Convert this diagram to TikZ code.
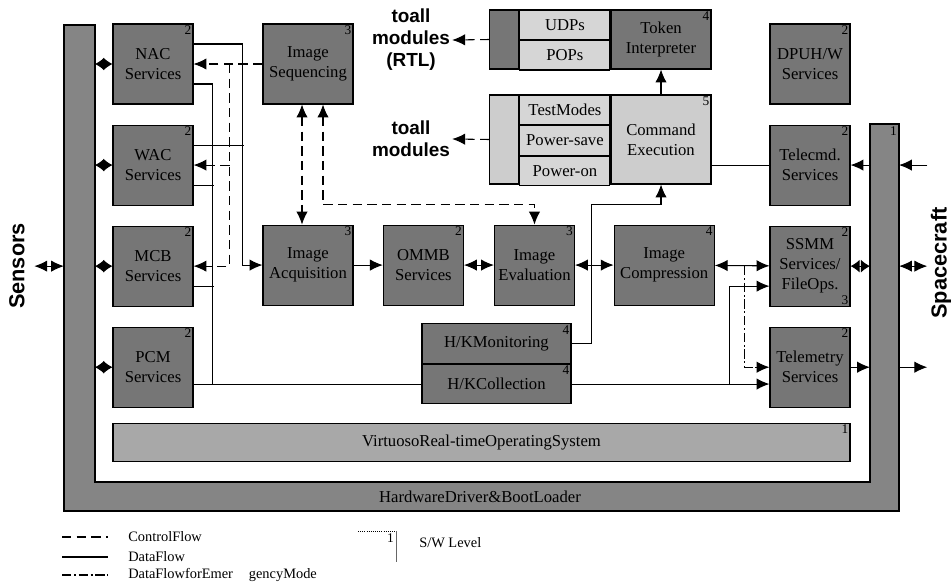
\documentclass[tikz,border=0pt]{standalone}
\usepackage{fontspec}
\setmainfont{Liberation Serif}
\newfontfamily\headsans{Liberation Sans}
\usepackage{tikz}
\usetikzlibrary{arrows.meta,positioning,calc}
\definecolor{modgray}{HTML}{767676}
\definecolor{litegray}{HTML}{D6D6D6}
\definecolor{cmdgray}{HTML}{CDCDCD}
\definecolor{osgray}{HTML}{A8A8A8}
\definecolor{hwgray}{HTML}{858585}
\newcommand{\modfont}{\fontsize{12.5}{15}\selectfont}
\newcommand{\lvlfont}{\fontsize{10}{11}\selectfont}
\newcommand{\legfont}{\fontsize{10.8}{12}\selectfont}
\newcommand{\notefont}{\headsans\bfseries\fontsize{14.2}{16.5}\selectfont}
\newcommand{\sidefont}{\headsans\bfseries\fontsize{16.3}{18}\selectfont}
\tikzset{
  modbox/.style={
    draw=black,
    fill=modgray,
    line width=0.8pt,
    minimum width=60pt,
    minimum height=60pt,
    align=center,
    inner sep=1pt,
    font=\modfont
  },
  litebox/.style={modbox, fill=litegray, minimum width=67.5pt},
  cmdbox/.style={modbox, fill=cmdgray},
  osbox/.style={modbox, fill=osgray},
  lvlnum/.style={anchor=north east, inner sep=1.5pt, font=\lvlfont},
  lvl/.style={label={[lvlnum]north east:#1}},
  notelabel/.style={align=center, inner sep=1.5pt, font=\notefont},
  sidelabel/.style={rotate=90, font=\sidefont},
  legtext/.style={inner sep=0pt, font=\legfont},
  dataflow/.style={draw=black, line width=0.8pt},
  dataarrow/.style={dataflow, -{Latex[length=3.4mm, width=3mm]}},
  databoth/.style={dataflow, {Latex[length=3.4mm, width=3mm]}-{Latex[length=3.4mm, width=3mm]}},
  diaflow/.style={dataflow, {Latex[length=2.4mm, width=3.4mm]}-{Latex[length=2.4mm, width=3.4mm]}},
  ctlflow/.style={draw=black, line width=0.8pt, dash pattern=on 7pt off 4pt},
  ctlarrow/.style={ctlflow, -{Latex[length=3.4mm, width=3mm]}},
  ctlboth/.style={ctlflow, {Latex[length=3.4mm, width=3mm]}-{Latex[length=3.4mm, width=3mm]}},
  emerarrow/.style={draw=black, line width=0.8pt, dash pattern=on 7pt off 2pt on 1.5pt off 2pt, -{Latex[length=3.4mm, width=3mm]}}
}

\begin{document}
\begin{tikzpicture}[x=0.75pt, y=-0.75pt, node distance=15pt]
\useasboundingbox (0,0) rectangle (952,582);

% hardware layer
\draw[fill=hwgray, line width=0.8pt] (64,25) -- (95,25) -- (95,482) -- (870,482) -- (870,124) -- (899,124) -- (899,511) -- (64,511) -- cycle;
\coordinate (lbarL) at (64,0);
\coordinate (lbarR) at (95,0);
\coordinate (rbarL) at (870,0);
\coordinate (rbarR) at (899,0);
\node[lvlnum] (hwlvl) at (899,124) {1};
\node[font=\modfont] (hwtext) at (480,497) {HardwareDriver\&BootLoader};
\node[osbox, minimum width=552.75pt, minimum height=29pt, lvl=1] (rtos) at (481.5,442.5) {VirtuosoReal-timeOperatingSystem};

% sensor side
\node[modbox, lvl=2] (nac) at (153,64) {NAC\\Services};
\node[modbox, lvl=2, below=of nac] (wac) {WAC\\Services};
\node[modbox, lvl=2, below=of wac] (mcb) {MCB\\Services};
\node[modbox, lvl=2, below=of mcb] (pcm) {PCM\\Services};

% image chain
\node[modbox, minimum width=67.5pt, lvl=3] (iseq) at (308,64) {Image\\Sequencing};
\node[modbox, minimum width=67.5pt, lvl=3, below=90pt of iseq] (iacq) {Image\\Acquisition};
\node[modbox, lvl=2, right=22pt of iacq] (ommb) {OMMB\\Services};
\node[modbox, lvl=3, right=22.5pt of ommb] (ieval) {Image\\Evaluation};
\node[modbox, minimum width=75pt, lvl=4, right=29pt of ieval] (icomp) {Image\\Compression};

% housekeeping
\node[modbox, minimum width=111.75pt, minimum height=29.6pt, lvl=4] (hkmon) at (496.5,343.5) {H/KMonitoring};
\node[modbox, minimum width=111.75pt, minimum height=29.6pt, lvl=4, below=0pt of hkmon] (hkcol) {H/KCollection};

% token interpreter
\node[modbox, minimum width=75pt, minimum height=44.25pt, lvl=4] (tokint) at (661,39.5) {Token\\Interpreter};
\node[litebox, minimum height=22.1pt, anchor=north east] (udps) at (tokint.north west) {UDPs};
\node[litebox, minimum height=22.1pt, below=0pt of udps] (pops) {POPs};
\node[modbox, minimum width=21.75pt, minimum height=44.25pt, anchor=north east] (tokstrip) at (udps.north west) {};

% command execution
\node[cmdbox, minimum width=75pt, minimum height=66.75pt, lvl=5] (cmdexe) at (661,139.5) {Command\\Execution};
\node[litebox, minimum height=22.2pt, anchor=north east] (tstm) at (cmdexe.north west) {TestModes};
\node[litebox, minimum height=22.2pt, below=0pt of tstm] (pwrs) {Power-save};
\node[litebox, minimum height=22.2pt, below=0pt of pwrs] (pwron) {Power-on};
\node[cmdbox, minimum width=21.75pt, minimum height=66.75pt, anchor=north east] (cmdstrip) at (tstm.north west) {};

% spacecraft side
\node[modbox, lvl=2] (dpu) at (810,64) {DPUH/W\\Services};
\node[modbox, lvl=2, below=of dpu] (tcmd) {Telecmd.\\Services};
\node[modbox, lvl=2, label={[lvlnum, anchor=south east]south east:3}, below=of tcmd] (ssmm) {SSMM\\Services/\\FileOps.};
\node[modbox, lvl=2, below=of ssmm] (tlm) {Telemetry\\Services};

% outside labels
\node[notelabel] (rtl) at (411,40) {toall\\modules\\(RTL)};
\node[notelabel] (allmod) at (411,139) {toall\\modules};
\node[sidelabel, inner sep=7pt] (sensors) at (17,266) {Sensors};
\node[sidelabel, inner sep=2.5pt] (scft) at (941,263) {Spacecraft};

% bar links
\draw[databoth] (sensors.south |- mcb.west) -- (lbarL |- mcb.west);
\draw[diaflow] (lbarR |- nac.west) -- (nac.west);
\draw[diaflow] (lbarR |- wac.west) -- (wac.west);
\draw[diaflow] (lbarR |- mcb.west) -- (mcb.west);
\draw[diaflow] (lbarR |- pcm.west) -- (pcm.west);
\draw[dataarrow] (scft.north |- tcmd.east) -- (rbarR |- tcmd.east);
\draw[dataarrow] (rbarL |- tcmd.east) -- (tcmd.east);
\draw[diaflow] (ssmm.east) -- (rbarL |- ssmm.east);
\draw[databoth] (rbarR |- ssmm.east) -- (scft.north |- ssmm.east);
\draw[dataarrow] (tlm.east) -- (rbarL |- tlm.east);
\draw[dataarrow] (rbarR |- tlm.east) -- (scft.north |- tlm.east);

% data flow
\draw[dataflow] (pcm.east |- hkcol.west) -- (hkcol.west);
\draw[dataflow] ($(nac.east)+(0,20)$) -| ($(hkcol.west)+(-209,0)$);
\draw[dataflow] ($(wac.east)+(0,20)$) -- ++(20,0);
\draw[dataflow] ($(mcb.east)+(0,20)$) -- ++(20,0);
\draw[dataarrow] ($(nac.east)+(0,-20)$) -| ($(iacq.west)+(-20,0)$) -- (iacq.west);
\draw[dataflow] ($(wac.east)+(0,-20)$) -- ++(50,0);
\draw[dataarrow] (iacq) -- (ommb);
\draw[databoth] (ommb) -- (ieval);
\draw[databoth] (ieval) -- (icomp);
\draw[databoth] (icomp) -- (ssmm);
\draw[dataarrow] (hkmon.east) -- ++(20,0) |- ($(cmdexe.south)+(0,20)$) -- (cmdexe.south);
\draw[dataarrow] (cmdexe.north) -- (tokint.south);
\draw[dataflow] (cmdexe.east |- tcmd.west) -- (tcmd.west);
\draw[dataarrow] (hkcol.east) -- (tlm.west |- hkcol.east);
\draw[dataarrow] ($(tlm.west |- hkcol.east)+(-40,0)$) |- ($(ssmm.west)+(0,20)$);

% control flow
\draw[ctlarrow] (iseq.west) -- (nac.east);
\draw[ctlarrow] ($(nac.east)+(36,0)$) |- (mcb.east);
\draw[ctlarrow] ($(wac.east)+(36,0)$) -- (wac.east);
\draw[ctlboth] ($(iseq.south)+(-6,0)$) -- ($(iacq.north)+(-6,0)$);
\draw[ctlboth] ($(iseq.south)+(15,0)$) |- ($(ieval.north)+(0,-20)$) -- (ieval.north);
\draw[ctlarrow] (tokstrip.west) -- (rtl.east);
\draw[ctlarrow] (cmdstrip.west) -- (allmod.east);
\draw[emerarrow] ($(ssmm.west)+(-25,0)$) |- (tlm.west);

% legend
\node[legtext, anchor=west] (lgctl) at (128,537) {ControlFlow};
\node[legtext, anchor=west] (lgdata) at (128,557) {DataFlow};
\node[legtext, anchor=west] (lgemer) at (128,575) {DataFlowforEmer\hspace{1.1em}gencyMode};
\draw[ctlflow] ($(lgctl.west)+(-66,0)$) -- ($(lgctl.west)+(-20,0)$);
\draw[dataflow] ($(lgdata.west)+(-66,0)$) -- ($(lgdata.west)+(-20,0)$);
\draw[dataflow, dash pattern=on 7pt off 2pt on 1.5pt off 2pt] ($(lgemer.west)+(-66,0)$) -- ($(lgemer.west)+(-20,0)$);
\node[lvlnum] (lglvl) at (396,531) {1};
\node[legtext, anchor=west] (lgsw) at (419,543) {S/W Level};
\draw[densely dotted, line width=0.6pt] ($(lglvl.north east)+(-38,0)$) -- (lglvl.north east);
\draw[line width=0.6pt, black!60] (lglvl.north east) -- ++(0,31);
\end{tikzpicture}
\end{document}
